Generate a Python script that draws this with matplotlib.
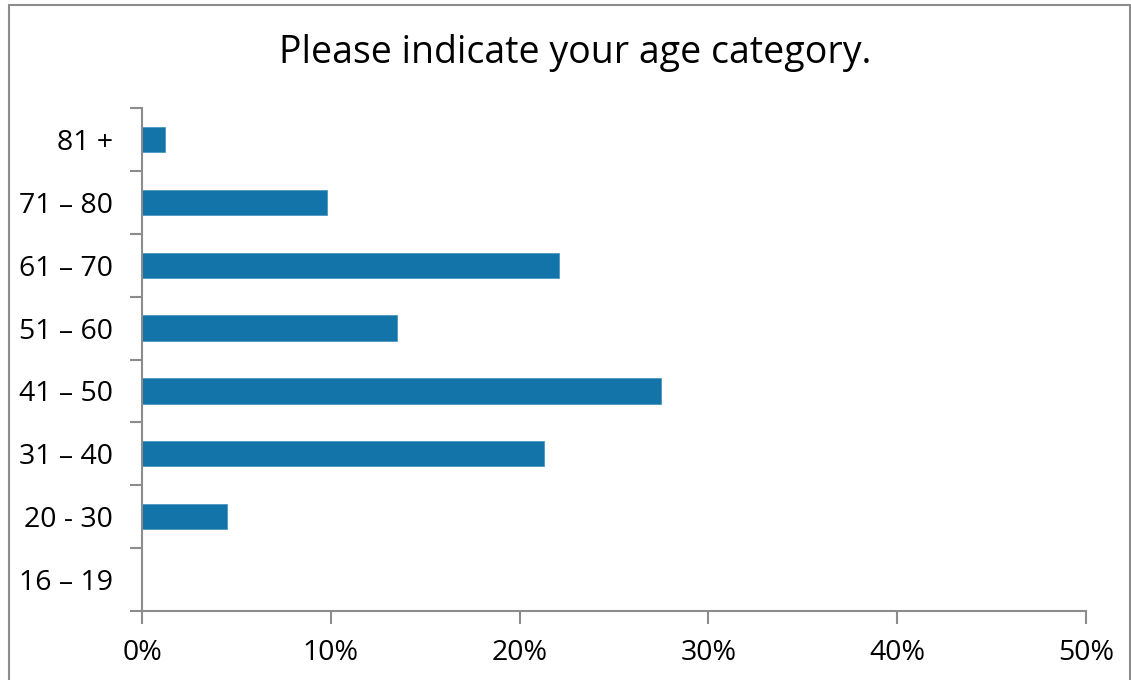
import matplotlib
matplotlib.use('Agg')
import matplotlib.pyplot as plt
from matplotlib.patches import Rectangle
from matplotlib.ticker import FuncFormatter, FixedLocator

plt.rcParams['font.family'] = ['Open Sans', 'DejaVu Sans']

categories = ['16 – 19', '20 - 30', '31 – 40', '41 – 50', '51 – 60', '61 – 70', '71 – 80', '81 +']
shares = [0.0, 4.5, 21.3, 27.5, 13.5, 22.1, 9.8, 1.2]
x_ticks = [0, 10, 20, 30, 40, 50]

W, H = 1131, 680
fig = plt.figure(figsize=(W / 100, H / 100), dpi=100)
ax = fig.add_axes([142 / W, 1 - 611 / H, (1086 - 142) / W, (611 - 108) / H])

spine_col = '#8c8c8c'
ax.barh(range(len(categories)), shares, height=0.4, color='#1274a8', edgecolor='#4a97c2', linewidth=0.6)

ax.set_xlim(0, 50)
ax.set_ylim(-0.5, len(categories) - 0.5)
ax.xaxis.set_major_locator(FixedLocator(x_ticks))
ax.xaxis.set_major_formatter(FuncFormatter(lambda v, p: f'{v:.0f}%'))

# category labels centred, tick marks at the boundaries
ax.set_yticks(range(len(categories)))
ax.set_yticklabels(categories)
ax.set_yticks([i - 0.5 for i in range(len(categories) + 1)], minor=True)
ax.tick_params(axis='y', which='major', length=0, pad=21, labelsize=20.5)
ax.tick_params(axis='y', which='minor', length=9, width=1.5, color=spine_col)
ax.tick_params(axis='x', which='major', length=9, width=1.5, color=spine_col, pad=11, labelsize=20.5)

for s in ['top', 'right']:
    ax.spines[s].set_visible(False)
for s in ['left', 'bottom']:
    ax.spines[s].set_color(spine_col)
    ax.spines[s].set_linewidth(1.5)

fig.text(575 / W, 1 - 53 / H, 'Please indicate your age category.', ha='center', va='center', fontsize=27)

# outer frame of the chart
fig.patches.append(Rectangle((8.5 / W, -0.05), (1130 - 8.5) / W, 1.05 - 4.5 / H,
                             transform=fig.transFigure, fill=False, edgecolor='#8c8c8c', linewidth=1.5))

fig.savefig('out.png', dpi=100)
